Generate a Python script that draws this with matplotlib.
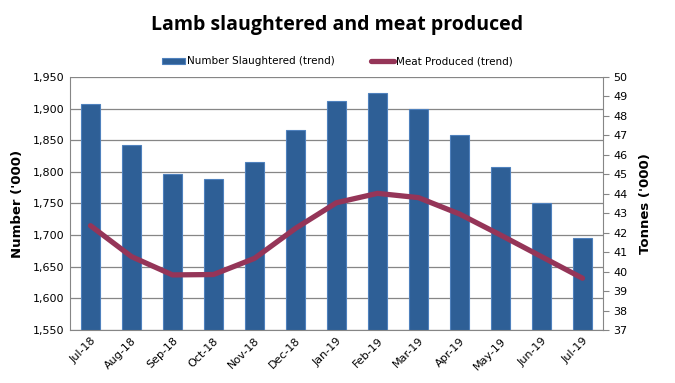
import matplotlib
matplotlib.use("Agg")
import matplotlib.pyplot as plt
import numpy as np

# data
months = ["Jul-18", "Aug-18", "Sep-18", "Oct-18", "Nov-18", "Dec-18", "Jan-19",
          "Feb-19", "Mar-19", "Apr-19", "May-19", "Jun-19", "Jul-19"]
slaughtered = [1907, 1842, 1796, 1789, 1815, 1866, 1912, 1924, 1900, 1859, 1807, 1750, 1695]
meat = [42.36, 40.77, 39.83, 39.85, 40.68, 42.22, 43.54, 44.02, 43.8, 42.96, 41.88, 40.77, 39.66]

plt.rcParams['font.family'] = ['DejaVu Sans']

fig = plt.figure(figsize=(6.75, 3.83), dpi=100)
ax = fig.add_axes([0.1037, 0.1384, 0.7896, 0.6606])
x = np.arange(len(months))

bars = ax.bar(x, slaughtered, width=0.45, color="#2e5f96", edgecolor="#4f81bd",
              linewidth=0.8, label="Number Slaughtered (trend)", zorder=2)
ax.set_ylim(1550, 1950)
ax.set_yticks(np.arange(1550, 1951, 50))
ax.set_yticklabels(["{:,}".format(v) for v in range(1550, 1951, 50)], fontsize=8)
ax.set_xlim(-0.5, len(months) - 0.5)
ax.set_xticks(x)
ax.set_xticklabels(months, rotation=45, ha="right", rotation_mode="anchor", fontsize=8)
ax.tick_params(axis="both", length=0, pad=4)
ax.grid(axis="y", color="#868686", linewidth=0.9, zorder=0)
ax.set_axisbelow(True)
for s in ["top", "right"]:
    ax.spines[s].set_visible(False)
for s in ["left", "bottom"]:
    ax.spines[s].set_color("#868686")
ax.set_ylabel("Number ('000)", fontsize=9.5, fontweight="bold", labelpad=6)

ax2 = ax.twinx()
line, = ax2.plot(x, meat, color="#953558", linewidth=3.8, solid_capstyle="round",
                 label="Meat Produced (trend)", zorder=3)
ax2.set_ylim(37, 50)
ax2.set_yticks(range(37, 51))
ax2.tick_params(axis="y", labelsize=8, length=4, color="#868686")
for s in ["top", "left", "bottom"]:
    ax2.spines[s].set_visible(False)
ax2.spines["right"].set_color("#868686")
ax2.set_ylabel("Tonnes ('000)", fontsize=9.5, fontweight="bold", labelpad=8)

fig.text(0.5, 0.935, "Lamb slaughtered and meat produced", ha="center", va="center",
         fontsize=14, fontweight="bold", family=["Open Sans", "DejaVu Sans"])
fig.legend(handles=[bars, line], loc="center", bbox_to_anchor=(0.5, 0.84), ncol=2,
           frameon=False, fontsize=7.5, handlelength=2.2, handleheight=0.5,
           columnspacing=3.5, handletextpad=0.2)

fig.savefig("out.png", dpi=100)
